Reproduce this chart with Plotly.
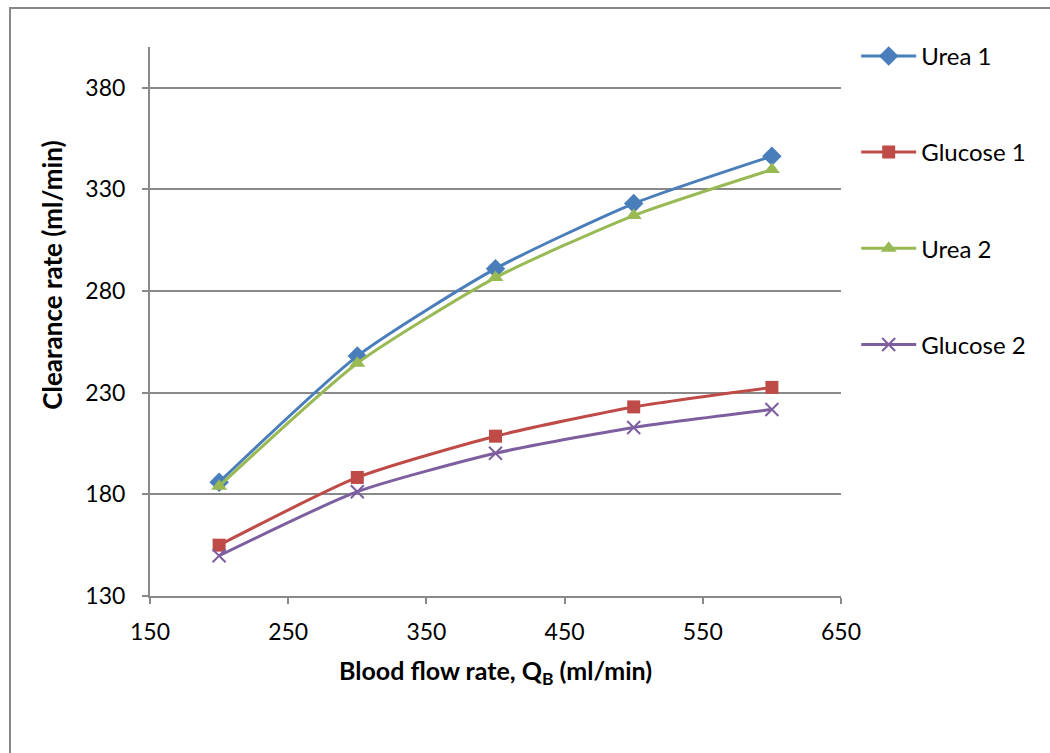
import plotly.graph_objects as go

blood_flow = [200, 300, 400, 500, 600]
urea1 = [186, 248, 291, 323, 346.3]
glucose1 = [155, 188.3, 208.6, 223, 232.6]
urea2 = [184, 244.5, 286.6, 317.1, 339.7]
glucose2 = [149.8, 181.3, 200.2, 212.9, 221.7]

x_ticks = [150, 250, 350, 450, 550, 650]
y_ticks = [130, 180, 230, 280, 330, 380]

series = [
    ("Urea 1", urea1, "#4A7EBB", "diamond", 15),
    ("Glucose 1", glucose1, "#BE4B48", "square", 13),
    ("Urea 2", urea2, "#98B954", "triangle-up", 14),
    ("Glucose 2", glucose2, "#7D5FA0", "x-thin", 13),
]

fig = go.Figure()
for i, (name, vals, color, sym, size) in enumerate(series):
    marker = dict(symbol=sym, size=size, color=color)
    if sym == "x-thin":
        marker["line"] = dict(color=color, width=2)
    fig.add_trace(go.Scatter(
        x=blood_flow, y=vals, name=name, mode="lines+markers",
        line=dict(color=color, width=3, shape="spline", smoothing=0.6),
        marker=marker, legendgroup=f"g{i}",
    ))

font = "Lato, 'Open Sans', sans-serif"
grid = "#898989"

fig.update_layout(
    width=1050, height=753,
    margin=dict(l=150, r=209, t=47, b=157, autoexpand=False),
    paper_bgcolor="white", plot_bgcolor="white",
    font=dict(family=font, size=23, color="#000000"),
    showlegend=True,
    legend=dict(
        x=1.022, y=1.024, xanchor="left", yanchor="top",
        font=dict(family=font, size=24, color="#000000"),
        tracegroupgap=62, itemwidth=55, bgcolor="rgba(0,0,0,0)",
        traceorder="grouped",
    ),
    xaxis=dict(
        range=[150, 650], tickvals=x_ticks, ticktext=[str(v) for v in x_ticks],
        showgrid=False, showline=True, linecolor=grid, linewidth=2,
        ticks="outside", ticklen=6, tickcolor=grid, tickwidth=2,
        ticklabelstandoff=8, zeroline=False,
        tickfont=dict(family=font, size=23),
    ),
    yaxis=dict(
        range=[130, 400], tickvals=y_ticks, ticktext=[str(v) for v in y_ticks],
        showgrid=True, gridcolor=grid, gridwidth=2,
        showline=True, linecolor=grid, linewidth=2,
        ticks="outside", ticklen=6, tickcolor=grid, tickwidth=2,
        ticklabelstandoff=12, zeroline=False,
        tickfont=dict(family=font, size=23),
    ),
    annotations=[
        dict(text="<b>Blood flow rate, Q<sub>B</sub> (ml/min)</b>", x=0.5, y=-0.138,
             xref="paper", yref="paper", xanchor="center", yanchor="middle",
             showarrow=False, font=dict(family=font, size=25)),
        dict(text="<b>Clearance rate (ml/min)</b>", x=-0.142, y=0.585,
             xref="paper", yref="paper", xanchor="center", yanchor="middle",
             textangle=-90, showarrow=False, font=dict(family=font, size=26)),
    ],
    shapes=[
        dict(type="rect", xref="paper", yref="paper",
             x0=(10 - 150) / 691, x1=(1070 - 150) / 691,
             y0=(596 - 770) / 549, y1=(596 - 8) / 549,
             line=dict(color="#878787", width=2), layer="below"),
    ],
)

fig.write_html("out.html")
